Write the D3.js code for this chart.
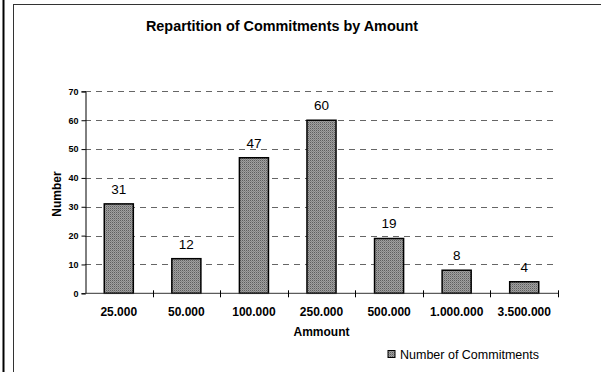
<!DOCTYPE html>
<html><head><meta charset="utf-8">
<script src="https://cdn.jsdelivr.net/npm/d3@7"></script>
<style>html,body{margin:0;padding:0;background:#fff;}svg{display:block;}</style>
</head><body>
<script>
const categories = ["25.000","50.000","100.000","250.000","500.000","1.000.000","3.500.000"];
const values = [31,12,47,60,19,8,4];
const yTicks = [0,10,20,30,40,50,60,70];
const seriesName = "Number of Commitments";
const title = "Repartition of Commitments by Amount";
const xTitle = "Ammount";
const yTitle = "Number";

const W = 601, H = 372;
const svg = d3.select("body").append("svg").attr("width", W).attr("height", H);
const font = "Liberation Sans, Arial, sans-serif";

const defs = svg.append("defs");
const pat = defs.append("pattern").attr("id","dither").attr("width",2).attr("height",2).attr("patternUnits","userSpaceOnUse");
pat.append("rect").attr("width",2).attr("height",2).attr("fill","#a0a0a0");
pat.append("rect").attr("width",1).attr("height",1).attr("fill","#5e5e5e");
pat.append("rect").attr("x",1).attr("y",1).attr("width",1).attr("height",1).attr("fill","#848484");

// frame
svg.append("line").attr("x1",3.5).attr("x2",3.5).attr("y1",0).attr("y2",H).attr("stroke","#000").attr("stroke-width",2);
svg.append("line").attr("x1",13.5).attr("x2",13.5).attr("y1",4).attr("y2",H).attr("stroke","#333").attr("stroke-width",1);
svg.append("line").attr("x1",13).attr("x2",W).attr("y1",4.5).attr("y2",4.5).attr("stroke","#333").attr("stroke-width",1);

const x = d3.scaleBand().domain(categories).range([85, 558]).paddingInner(0.57).paddingOuter(0.285);
const y = d3.scaleLinear().domain([0,70]).range([293.3, 91.4]);

// gridlines
svg.append("g").selectAll("line").data(yTicks.filter(d=>d>0)).join("line")
  .attr("x1",85).attr("x2",558).attr("y1",d=>Math.round(y(d))+0.5).attr("y2",d=>Math.round(y(d))+0.5)
  .attr("stroke","#666").attr("stroke-width",1).attr("stroke-dasharray","6,5");

// bars
svg.append("g").selectAll("rect").data(values).join("rect")
  .attr("x",(d,i)=>x(categories[i])).attr("width",x.bandwidth())
  .attr("y",d=>y(d)).attr("height",d=>y(0)-y(d))
  .attr("fill","url(#dither)").attr("stroke","#000").attr("stroke-width",1.5);

// value labels
svg.append("g").selectAll("text").data(values).join("text")
  .attr("x",(d,i)=>x(categories[i])+x.bandwidth()/2).attr("y",d=>y(d)-10)
  .attr("text-anchor","middle").attr("font-family",font).attr("font-size",13.5).attr("fill","#000")
  .text(d=>d);

// y axis
const yAxis = d3.axisLeft(y).tickValues(yTicks).tickSize(4).tickPadding(3);
const gy = svg.append("g").attr("transform","translate(85.5,0)").call(yAxis);
gy.selectAll("text").attr("font-family",font).attr("font-size",9).attr("font-weight","bold").attr("fill","#000");
gy.selectAll("line,path").attr("stroke","#000");

// x axis
const gx = svg.append("g").attr("transform",`translate(0,${y(0)})`);
gx.append("line").attr("x1",85).attr("x2",558).attr("stroke","#333");
const bounds = d3.range(categories.length+1).map(i=>85 + i*(558-85)/categories.length);
gx.selectAll(".tk").data(bounds.slice(1)).join("line").attr("class","tk")
  .attr("x1",d=>Math.round(d)+0.5).attr("x2",d=>Math.round(d)+0.5).attr("y1",-3).attr("y2",4).attr("stroke","#000");
gx.selectAll("text").data(categories).join("text")
  .attr("x",d=>x(d)+x.bandwidth()/2).attr("y",23)
  .attr("text-anchor","middle").attr("font-family",font).attr("font-size",12).attr("font-weight","bold").attr("fill","#000")
  .text(d=>d);

// titles
svg.append("text").attr("x",282).attr("y",31).attr("text-anchor","middle")
  .attr("font-family",font).attr("font-size",14.4).attr("font-weight","bold").text(title);
svg.append("text").attr("x",321.5).attr("y",336).attr("text-anchor","middle")
  .attr("font-family",font).attr("font-size",12).attr("font-weight","bold").text(xTitle);
svg.append("text").attr("transform","translate(61,194) rotate(-90)").attr("text-anchor","middle")
  .attr("font-family",font).attr("font-size",12).attr("font-weight","bold").text(yTitle);

// legend
const lg = svg.append("g");
lg.append("rect").attr("x",388).attr("y",350.5).attr("width",7).attr("height",7)
  .attr("fill","url(#dither)").attr("stroke","#000").attr("stroke-width",1);
lg.append("text").attr("x",400).attr("y",358.5).attr("font-family",font).attr("font-size",12.5).attr("fill","#000").text(seriesName);
</script>
</body></html>
